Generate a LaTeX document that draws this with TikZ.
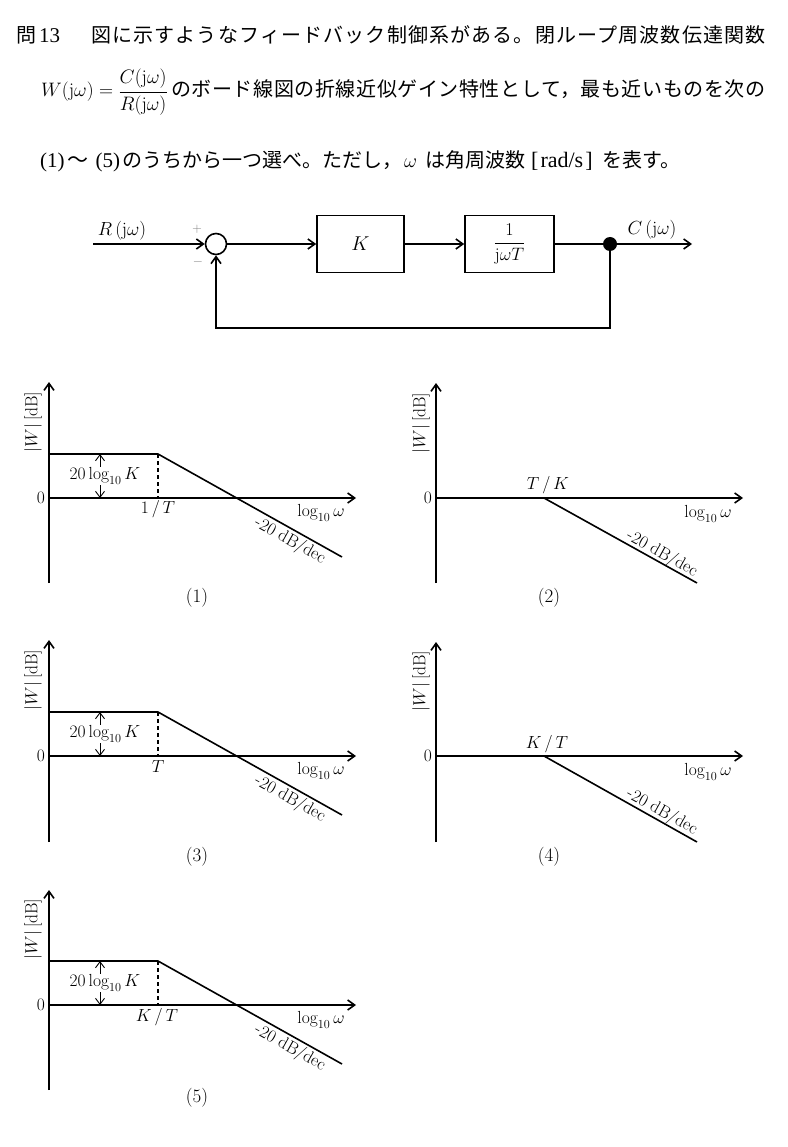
\RequirePackage{fix-cm}
\documentclass[tikz,border=0pt]{standalone}
\usepackage{amsmath}
\usepackage{fontspec}
\newfontfamily\jp{Noto Sans CJK JP}
\newfontfamily\jpa{Noto Sans CJK JP}[LetterSpace=5.8]
\newfontfamily\jpb{Noto Sans CJK JP}[LetterSpace=3]
\newfontfamily\tms{Liberation Serif}
\usetikzlibrary{arrows.meta,positioning}

\begin{document}
\begin{tikzpicture}[x=1pt,y=-1pt,
    sig/.style={line width=1.6pt},
    arr/.style={line width=1.6pt,-{Straight Barb[length=7pt,width=10pt]}},
    blk/.style={draw,line width=1.6pt,inner sep=0pt,minimum height=57pt},
    dim/.style={line width=0.9pt,{Straight Barb[length=6pt,width=9pt]}-{Straight Barb[length=6pt,width=9pt]}},
    dsh/.style={line width=1.1pt,dash pattern=on 4pt off 3pt},
    txt/.style={anchor=base west,inner sep=0pt,font=\tms\fontsize{21}{24}\selectfont},
    jtxt/.style={anchor=base west,inner sep=0pt,font=\jp\fontsize{20}{24}\selectfont},
    lab/.style={inner sep=1pt,font=\fontsize{17.5}{20}\selectfont},
    num/.style={inner sep=1pt,font=\fontsize{19}{22}\selectfont},
    bd/.style={inner sep=1pt,font=\fontsize{19}{22}\selectfont}]
    \useasboundingbox (0,0) rectangle (787,1147);

    % question text
    \node[jtxt] (mon) at (16,43) {問};
    \node[txt] (qnum) at (39,43) {13};
    \node[jtxt,font=\jpa\fontsize{20}{24}\selectfont] (line1) at (91,43) {図に示すようなフィードバック制御系がある。閉ループ周波数伝達関数};
    \node[txt,font=\fontsize{19.5}{24}\selectfont] (wdef) at (41,97) {$W(\mathrm{j}\omega)=\dfrac{C(\mathrm{j}\omega)}{R(\mathrm{j}\omega)}$};
    \node[jtxt,font=\jpb\fontsize{20}{24}\selectfont] (line2) at (171,97) {のボード線図の折線近似ゲイン特性として，最も近いものを次の};
    \node[txt] (sel) at (40,168) {(1)\kern3pt{\jp ～}\kern7pt(5)};
    \node[jtxt] (line3a) at (122,168) {のうちから一つ選べ。ただし，};
    \node[txt,font=\fontsize{20}{24}\selectfont] (omg) at (404,168) {$\omega$};
    \node[jtxt] (line3b) at (425,168) {は角周波数};
    \node[txt,font=\tms\fontsize{22}{24}\selectfont] (unit) at (531,168) {[\kern2pt rad/s\kern2pt]};
    \node[jtxt] (line3c) at (602,168) {を表す。};

    % block diagram
    \coordinate (in) at (93,244);
    \node[circle,draw,line width=1.6pt,minimum size=21pt,inner sep=0pt] (sum) at (216,244) {};
    \node[blk,minimum width=87pt] (gain) at (360.5,244) {\fontsize{20}{22}\selectfont$K$};
    \node[blk,minimum width=89pt] (plant) at (509.5,244) {\fontsize{18}{22}\selectfont$\dfrac{1}{\mathrm{j}\omega T}$};
    \node[circle,fill,inner sep=0pt,minimum size=14pt] (split) at (610,244) {};
    \coordinate (out) at (692,244);
    \coordinate (fb) at (610,328);

    \draw[arr] (in) -- (sum);
    \draw[arr] (sum) -- (gain);
    \draw[arr] (gain) -- (plant);
    \draw[sig] (plant) -- (split);
    \draw[arr] (split) -- (out);
    \draw[arr] (split) |- (sum |- fb) -- (sum);

    \node[bd] (rin) at (122,231) {$R\,(\mathrm{j}\omega)$};
    \node[bd] (cout) at (652,230) {$C\,(\mathrm{j}\omega)$};
    \node[inner sep=0pt,gray,font=\fontsize{13}{14}\selectfont] (plus) at (197,229) {$+$};
    \node[inner sep=0pt,gray,font=\fontsize{13}{14}\selectfont] (minus) at (198,262) {$-$};

    % (1)
    \begin{scope}[shift={(49,498)}]
        \draw[arr] (0,85) -- (0,-116);
        \draw[arr] (0,0) -- (307,0);
        \draw[sig] (0,-44) -- (109,-44) -- (293,59);
        \draw[dsh] (109,-44) -- (109,0);
        \draw[dim] (51,-44) -- (51,0);
        \node[lab,fill=white] (k1) at (56,-22) {$20\log_{10}K$};
        \node[lab,anchor=east] (z1) at (-3,0) {0};
        \node[lab,rotate=90] (y1) at (-16,-76) {$|W|\,[\mathrm{dB}]$};
        \node[lab] (x1) at (272,15) {$\log_{10}\omega$};
        \node[lab] (b1) at (109,11) {$1\,/\,T$};
        \node[lab,rotate=-29.2] (s1) at (241,43) {-20 dB/dec};
        \node[num] (n1) at (148,100) {(1)};
    \end{scope}

    % (2)
    \begin{scope}[shift={(436,498)}]
        \draw[arr] (0,85) -- (0,-115);
        \draw[arr] (0,0) -- (307,0);
        \draw[sig] (108,0) -- (261,85);
        \node[lab,anchor=east] (z2) at (-3,0) {0};
        \node[lab,rotate=90] (y2) at (-15,-75) {$|W|\,[\mathrm{dB}]$};
        \node[lab] (x2) at (272,16) {$\log_{10}\omega$};
        \node[lab] (b2) at (112,-13) {$T\,/\,K$};
        \node[lab,rotate=-29] (s2) at (226,56) {-20 dB/dec};
        \node[num] (n2) at (113,100) {(2)};
    \end{scope}

    % (3)
    \begin{scope}[shift={(49,756)}]
        \draw[arr] (0,86) -- (0,-116);
        \draw[arr] (0,0) -- (307,0);
        \draw[sig] (0,-44) -- (109,-44) -- (293,59);
        \draw[dsh] (109,-44) -- (109,0);
        \draw[dim] (51,-44) -- (51,0);
        \node[lab,fill=white] (k3) at (56,-22) {$20\log_{10}K$};
        \node[lab,anchor=east] (z3) at (-3,0) {0};
        \node[lab,rotate=90] (y3) at (-16,-76) {$|W|\,[\mathrm{dB}]$};
        \node[lab] (x3) at (272,15) {$\log_{10}\omega$};
        \node[lab] (b3) at (109,11) {$T$};
        \node[lab,rotate=-29.2] (s3) at (241,43) {-20 dB/dec};
        \node[num] (n3) at (148,101) {(3)};
    \end{scope}

    % (4)
    \begin{scope}[shift={(436,756)}]
        \draw[arr] (0,86) -- (0,-114);
        \draw[arr] (0,0) -- (307,0);
        \draw[sig] (108,0) -- (261,86);
        \node[lab,anchor=east] (z4) at (-3,0) {0};
        \node[lab,rotate=90] (y4) at (-15,-75) {$|W|\,[\mathrm{dB}]$};
        \node[lab] (x4) at (272,16) {$\log_{10}\omega$};
        \node[lab] (b4) at (111,-12) {$K\,/\,T$};
        \node[lab,rotate=-29] (s4) at (226,56) {-20 dB/dec};
        \node[num] (n4) at (113,101) {(4)};
    \end{scope}

    % (5)
    \begin{scope}[shift={(49,1005)}]
        \draw[arr] (0,85) -- (0,-115);
        \draw[arr] (0,0) -- (307,0);
        \draw[sig] (0,-44) -- (109,-44) -- (293,59);
        \draw[dsh] (109,-44) -- (109,0);
        \draw[dim] (51,-44) -- (51,0);
        \node[lab,fill=white] (k5) at (56,-22) {$20\log_{10}K$};
        \node[lab,anchor=east] (z5) at (-3,0) {0};
        \node[lab,rotate=90] (y5) at (-16,-76) {$|W|\,[\mathrm{dB}]$};
        \node[lab] (x5) at (272,15) {$\log_{10}\omega$};
        \node[lab] (b5) at (108,12) {$K\,/\,T$};
        \node[lab,rotate=-29.2] (s5) at (241,43) {-20 dB/dec};
        \node[num] (n5) at (148,93) {(5)};
    \end{scope}
\end{tikzpicture}
\end{document}
